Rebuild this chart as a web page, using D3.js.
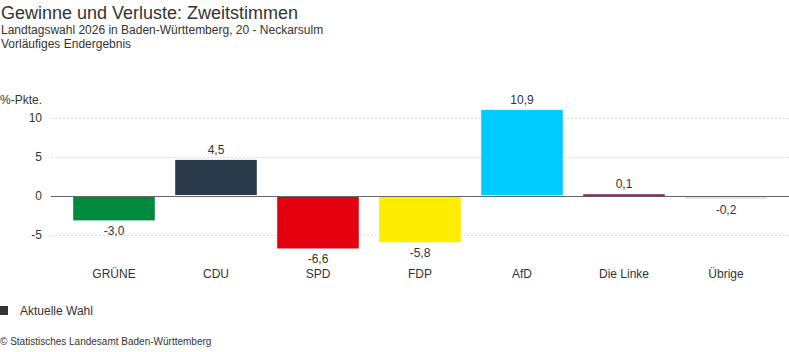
<!DOCTYPE html>
<html><head><meta charset="utf-8">
<script src="https://cdn.jsdelivr.net/npm/d3@7"></script>
<style>body{margin:0;background:#fff;font-family:"Liberation Sans",Arial,sans-serif;}</style>
</head><body><svg id="c" width="789" height="352"></svg>
<script>
const categories = ["GRÜNE","CDU","SPD","FDP","AfD","Die Linke","Übrige"];
const values = [-3.0, 4.5, -6.6, -5.8, 10.9, 0.1, -0.2];
const colors = ["#008a3c","#2b3a4a","#e3000f","#ffed00","#00ccff","#8b2566","#e3e3e3"];
const yTicks = [-5, 0, 5, 10];
const fmt = v => v.toFixed(1).replace(".", ",");

const svg = d3.select("#c");
const x = d3.scaleBand().domain(categories).range([63, 777]).paddingInner(0.2).paddingOuter(0.1);
const y = d3.scaleLinear().domain([-5, 10]).range([235, 118]);

svg.append("text").attr("x",1).attr("y",19).attr("font-size",18).attr("fill","#333").text("Gewinne und Verluste: Zweitstimmen");
svg.append("text").attr("x",1).attr("y",34).attr("font-size",12).attr("fill","#333").text("Landtagswahl 2026 in Baden-Württemberg, 20 - Neckarsulm");
svg.append("text").attr("x",1).attr("y",48).attr("font-size",12).attr("fill","#333").text("Vorläufiges Endergebnis");
svg.append("text").attr("x",0).attr("y",104).attr("font-size",12).attr("fill","#333").text("%-Pkte.");

const g = svg.append("g");
g.selectAll("line.grid").data(yTicks.filter(t=>t!==0)).join("line")
 .attr("x1",51).attr("x2",789).attr("y1",d=>Math.round(y(d))+0.5).attr("y2",d=>Math.round(y(d))+0.5)
 .attr("stroke","#dcdcdc").attr("stroke-dasharray","2,2");
g.selectAll("text.tick").data(yTicks).join("text")
 .attr("x",42).attr("y",d=>y(d)+4).attr("text-anchor","end").attr("font-size",12).attr("fill","#333").text(d=>d);

g.append("line").attr("x1",51).attr("x2",789).attr("y1",Math.round(y(0))+0.5).attr("y2",Math.round(y(0))+0.5).attr("stroke","#666");

g.selectAll("rect.bar").data(values).join("rect")
 .attr("x",(d,i)=>x(categories[i])).attr("width",x.bandwidth())
 .attr("y",d=> d>=0 ? y(d)-1 : y(0)+1).attr("height",d=>Math.max(2,Math.abs(y(d)-y(0))))
 .attr("fill",(d,i)=>colors[i]);

g.selectAll("text.val").data(values).join("text")
 .attr("x",(d,i)=>x(categories[i])+x.bandwidth()/2)
 .attr("y",d=> d>=0 ? y(d)-7 : y(d)+16)
 .attr("text-anchor","middle").attr("font-size",12).attr("fill","#333").text(fmt);

g.selectAll("text.cat").data(categories).join("text")
 .attr("x",d=>x(d)+x.bandwidth()/2).attr("y",278).attr("text-anchor","middle").attr("font-size",12).attr("fill","#333").text(d=>d);

svg.append("rect").attr("x",0).attr("y",306).attr("width",8).attr("height",9).attr("fill","#333");
svg.append("text").attr("x",20).attr("y",315).attr("font-size",12).attr("fill","#333").text("Aktuelle Wahl");
svg.append("text").attr("x",0).attr("y",345).attr("font-size",10).attr("fill","#333").text("© Statistisches Landesamt Baden-Württemberg");
</script></body></html>
